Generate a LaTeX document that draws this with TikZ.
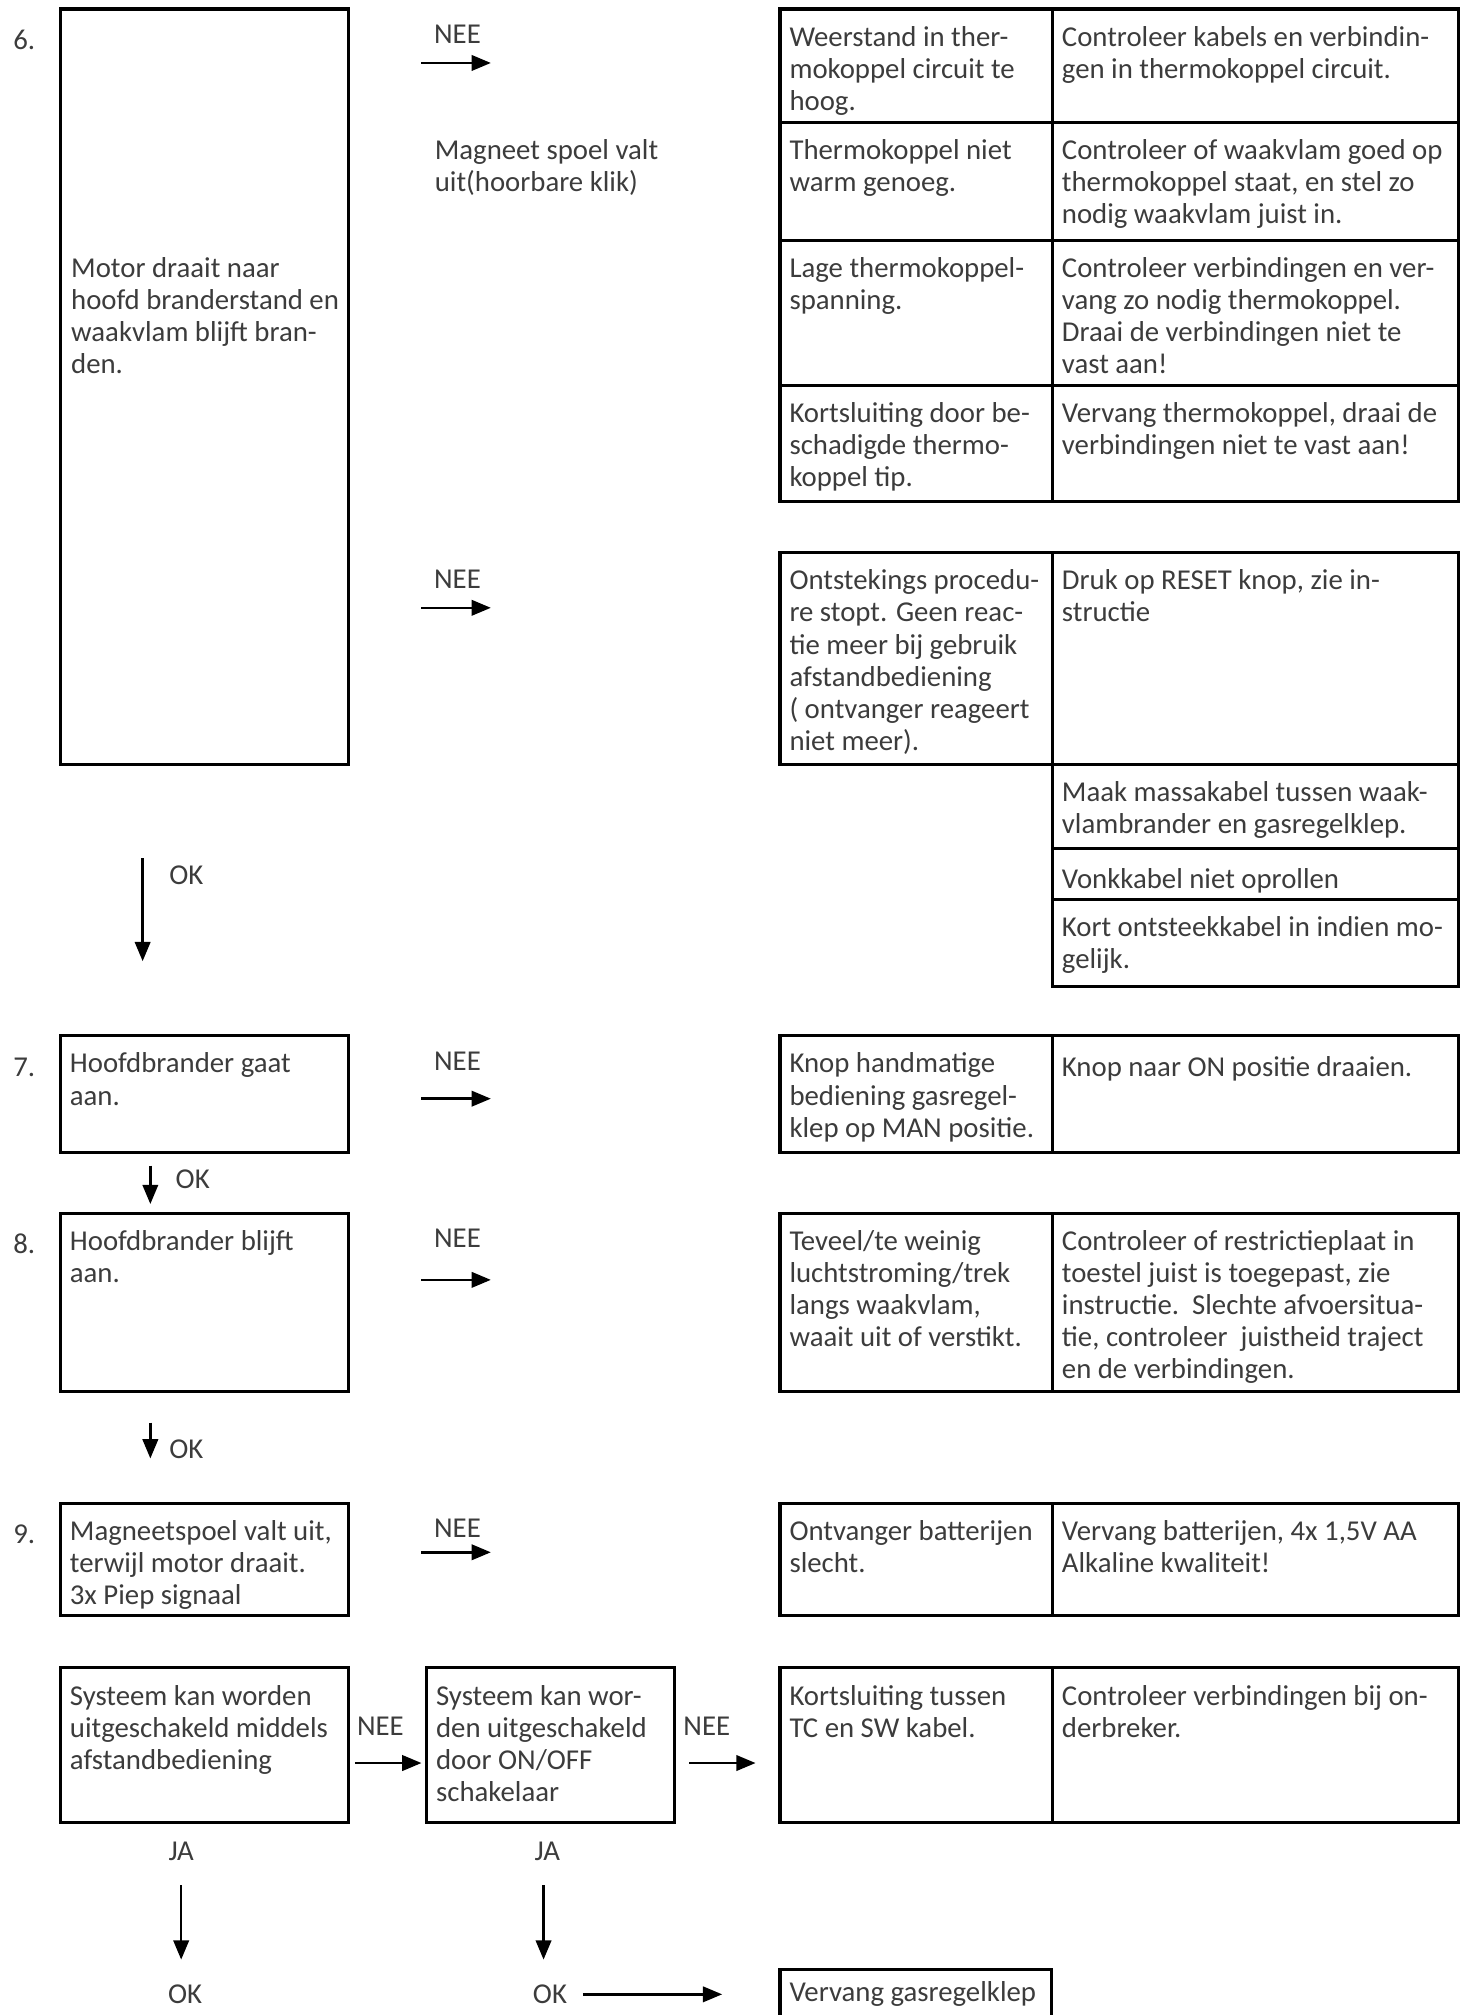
\documentclass[tikz,border=0pt]{standalone}
\usepackage{fontspec}
\setmainfont{Carlito}
\usetikzlibrary{arrows.meta,fit}
\definecolor{txtc}{HTML}{3C3C3C}
\tikzset{
 box/.style={draw=black, line width=1.2pt, inner sep=0pt},
 txt/.style={text=txtc, font=\fontsize{11.2}{12.5}\selectfont, align=left, inner sep=0pt, execute at begin node={\rule{0pt}{9pt}}},
 lbl/.style={text=txtc, font=\fontsize{11.2}{12.5}\selectfont, inner sep=0pt},
 arr/.style={line width=1pt, -{Triangle[length=7.5pt,width=6pt]}},
}
\newcommand\cell[6]{%
 \node[box, fit={(#2,#3) (#4,#5)}] (#1) {};
 \node[txt, anchor=north west] (#1t) at (#2+7,#3+13) {#6};}
\begin{document}
\begin{tikzpicture}[x=0.5pt, y=-0.5pt]
\useasboundingbox (0,0) rectangle (1137,1568.1);
% step numbers
\node[txt, anchor=north west] (n6) at (10,20) {6.};
\node[txt, anchor=north west] (n7) at (10,819) {7.};
\node[txt, anchor=north west] (n8) at (10,957) {8.};
\node[txt, anchor=north west] (n9) at (10,1183) {9.};
% step 6
\node[box, fit={(47,7) (271,595)}] (s6) {};
\node[txt, anchor=north west] (s6t) at (55,200) {Motor draait naar\\hoofd branderstand en\\waakvlam blijft bran-\\den.};
\node[lbl] (nee1) at (356,27) {NEE};
\coordinate (a1s) at (328,49); \coordinate (a1e) at (382,49);
\draw[arr] (a1s) -- (a1e);
\node[txt, anchor=north west] (mag) at (338,108) {Magneet spoel valt\\uit(hoorbare klik)};
\cell{t1a}{607}{7}{819}{95}{Weerstand in ther-\\mokoppel circuit te\\hoog.}
\cell{t1b}{819}{7}{1135}{95}{Controleer kabels en verbindin-\\gen in thermokoppel circuit.}
\cell{t2a}{607}{95}{819}{187}{Thermokoppel niet\\warm genoeg.}
\cell{t2b}{819}{95}{1135}{187}{Controleer of waakvlam goed op\\thermokoppel staat, en stel zo\\nodig waakvlam juist in.}
\cell{t3a}{607}{187}{819}{300}{Lage thermokoppel-\\spanning.}
\cell{t3b}{819}{187}{1135}{300}{Controleer verbindingen en ver-\\vang zo nodig thermokoppel.\\Draai de verbindingen niet te\\vast aan!}
\cell{t4a}{607}{300}{819}{390}{Kortsluiting door be-\\schadigde thermo-\\koppel tip.}
\cell{t4b}{819}{300}{1135}{390}{Vervang thermokoppel, draai de\\verbindingen niet te vast aan!}
\node[lbl] (nee2) at (356,451) {NEE};
\coordinate (a2s) at (328,473); \coordinate (a2e) at (382,473);
\draw[arr] (a2s) -- (a2e);
\cell{u1a}{607}{430}{819}{595}{Ontstekings procedu-\\re stopt. Geen reac-\\tie meer bij gebruik\\afstandbediening\\( ontvanger reageert\\niet meer).}
\cell{u1b}{819}{430}{1135}{595}{Druk op RESET knop, zie in-\\structie}
\cell{u2}{819}{595}{1135}{660}{Maak massakabel tussen waak-\\vlambrander en gasregelklep.}
\cell{u3}{819}{660}{1135}{700}{Vonkkabel niet oprollen}
\cell{u4}{819}{700}{1135}{768}{Kort ontsteekkabel in indien mo-\\gelijk.}
\coordinate (o6s) at (111,668); \coordinate (o6e) at (111,748);
\draw[arr] (o6s) -- (o6e);
\node[lbl] (ok6) at (145,681) {OK};
% step 7
\cell{s7}{47}{806}{271}{897}{Hoofdbrander gaat\\aan.}
\node[lbl] (nee7) at (356,826) {NEE};
\coordinate (a7s) at (328,855); \coordinate (a7e) at (382,855);
\draw[arr] (a7s) -- (a7e);
\cell{v7a}{607}{806}{819}{897}{Knop handmatige\\bediening gasregel-\\klep op MAN positie.}
\cell{v7b}{819}{806}{1135}{897}{Knop naar ON positie draaien.}
\coordinate (o7s) at (117,907); \coordinate (o7e) at (117,937);
\draw[arr] (o7s) -- (o7e);
\node[lbl] (ok7) at (150,918) {OK};
% step 8
\cell{s8}{47}{944}{271}{1083}{Hoofdbrander blijft\\aan.}
\node[lbl] (nee8) at (356,964) {NEE};
\coordinate (a8s) at (328,996); \coordinate (a8e) at (382,996);
\draw[arr] (a8s) -- (a8e);
\cell{v8a}{607}{944}{819}{1083}{Teveel/te weinig\\luchtstroming/trek\\langs waakvlam,\\waait uit of verstikt.}
\cell{v8b}{819}{944}{1135}{1083}{Controleer of restrictieplaat in\\toestel juist is toegepast, zie\\instructie.\ \ Slechte afvoersitua-\\tie, controleer\ \ juistheid traject\\en de verbindingen.}
\coordinate (o8s) at (117,1107); \coordinate (o8e) at (117,1135);
\draw[arr] (o8s) -- (o8e);
\node[lbl] (ok8) at (145,1128) {OK};
% step 9
\cell{s9}{47}{1170}{271}{1257}{Magneetspoel valt uit,\\terwijl motor draait.\\3x Piep signaal}
\node[lbl] (nee9) at (356,1189) {NEE};
\coordinate (a9s) at (328,1208); \coordinate (a9e) at (382,1208);
\draw[arr] (a9s) -- (a9e);
\cell{v9a}{607}{1170}{819}{1257}{Ontvanger batterijen\\slecht.}
\cell{v9b}{819}{1170}{1135}{1257}{Vervang batterijen, 4x 1,5V AA\\Alkaline kwaliteit!}
% bottom
\cell{sA}{47}{1298}{271}{1418}{Systeem kan worden\\uitgeschakeld middels\\afstandbediening}
\cell{sB}{332}{1298}{525}{1418}{Systeem kan wor-\\den uitgeschakeld\\door ON/OFF\\schakelaar}
\cell{vAa}{607}{1298}{819}{1418}{Kortsluiting tussen\\TC en SW kabel.}
\cell{vAb}{819}{1298}{1135}{1418}{Controleer verbindingen bij on-\\derbreker.}
\node[lbl] (neeA) at (296,1343) {NEE};
\node[lbl] (neeB) at (550,1343) {NEE};
\coordinate (aAe) at (328,1372); \coordinate (aBe) at (588,1372);
\draw[arr] (sA.east |- aAe) ++(4,0) coordinate (aAs) -- (aAe);
\draw[arr] (sB.east |- aBe) ++(10,0) coordinate (aBs) -- (aBe);
\node[lbl] (jaA) at (141,1441) {JA};
\node[lbl] (jaB) at (426,1441) {JA};
\coordinate (jAs) at (141,1467); \coordinate (jAe) at (141,1525);
\coordinate (jBs) at (423,1467); \coordinate (jBe) at (423,1525);
\draw[arr] (jAs) -- (jAe);
\draw[arr] (jBs) -- (jBe);
\node[lbl] (okA) at (144,1552) {OK};
\node[lbl] (okB) at (428,1552) {OK};
\node[box, fit={(607,1533) (818,1600)}] (vg) {};
\node[txt, anchor=north west] (vgt) at (614,1539) {Vervang gasregelklep};
\coordinate (gE) at (562,1552);
\draw[arr] (okB.east) ++(12,0) coordinate (gS) -- (gE);
\end{tikzpicture}
\end{document}
